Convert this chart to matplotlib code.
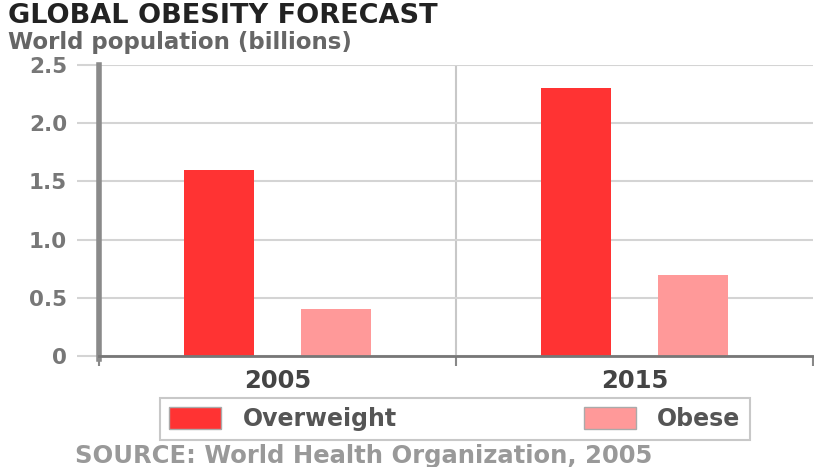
import matplotlib
matplotlib.use("Agg")
import matplotlib.pyplot as plt
import numpy as np

categories = ["2005", "2015"]
overweight = [1.6, 2.3]
obese = [0.4, 0.7]
series_names = ["Overweight", "Obese"]
yticks = [0, 0.5, 1.0, 1.5, 2.0, 2.5]
ytick_labels = ["0", "0.5", "1.0", "1.5", "2.0", "2.5"]

C_OVER = "#ff3333"
C_OBESE = "#ff9999"

plt.rcParams['font.family'] = ['DejaVu Sans']
fig = plt.figure(figsize=(8.14, 4.67), dpi=100)
ax = fig.add_axes([99/814, 111/467, (813-99)/814, (356-65)/467])

x = np.arange(len(categories))
w = 0.196
off = 0.165
b1 = ax.bar(x - off, overweight, w, color=C_OVER, label=series_names[0], zorder=3)
b2 = ax.bar(x + off, obese, w, color=C_OBESE, label=series_names[1], zorder=3)

ax.set_xlim(-0.5, 1.5)
ax.set_ylim(0, 2.5)
ax.set_yticks(yticks)
ax.set_yticklabels(ytick_labels, fontsize=15.5, fontweight='bold', color='#777777')
ax.yaxis.grid(True, color='#d4d4d4', linewidth=1.5, zorder=0)
ax.tick_params(axis='y', length=16, width=1.5, color='#d4d4d4', pad=7)
ax.axvline(0.5, color='#c8c8c8', linewidth=1.5, zorder=1)

ax.set_xticks([-0.5, 0.5, 1.5])
ax.set_xticklabels([])
ax.tick_params(axis='x', length=7, width=1.5, color='#888888')
ax.set_xticks(x, minor=True)
ax.set_xticklabels(categories, minor=True, fontsize=17.5, fontweight='bold', color='#444444')
ax.tick_params(axis='x', which='minor', length=0, pad=9)

for s in ['top', 'right']:
    ax.spines[s].set_visible(False)
ax.spines['left'].set_color('#8a8a8a')
ax.spines['left'].set_linewidth(4)
ax.spines['left'].set_bounds(-0.03, 2.5)
ax.spines['bottom'].set_color('#777777')
ax.spines['bottom'].set_linewidth(2)
ax.spines['bottom'].set_zorder(4)

fig.text(8/814, 1 - 16/467, "GLOBAL OBESITY FORECAST", fontsize=19.5, fontweight='bold',
         color='#222222', va='center', ha='left')
fig.text(8/814, 1 - 43/467, "World population (billions)", fontsize=16.5, fontweight='bold',
         color='#666666', va='center', ha='left')

leg = fig.legend(handles=[b1, b2], labels=series_names, loc='center',
                 bbox_to_anchor=(160/814, 1 - 440/467, 590/814, 42/467), mode='expand',
                 ncol=2, frameon=True,
                 fancybox=False, edgecolor='#bbbbbb', fontsize=17,
                 handlelength=2.2, handleheight=1.05, columnspacing=3.0,
                 borderpad=0.4, handletextpad=0.9, borderaxespad=0)
leg.get_frame().set_linewidth(1.5)
for t in leg.get_texts():
    t.set_color('#555555')
    t.set_fontweight('bold')
for p in leg.get_patches():
    p.set_edgecolor('#aaaaaa')
    p.set_linewidth(1)

fig.text(75/814, 1 - 456/467, "SOURCE: World Health Organization, 2005", fontsize=17.5,
         fontweight='bold', color='#999999', va='center', ha='left')

fig.savefig("out.png", dpi=100)
